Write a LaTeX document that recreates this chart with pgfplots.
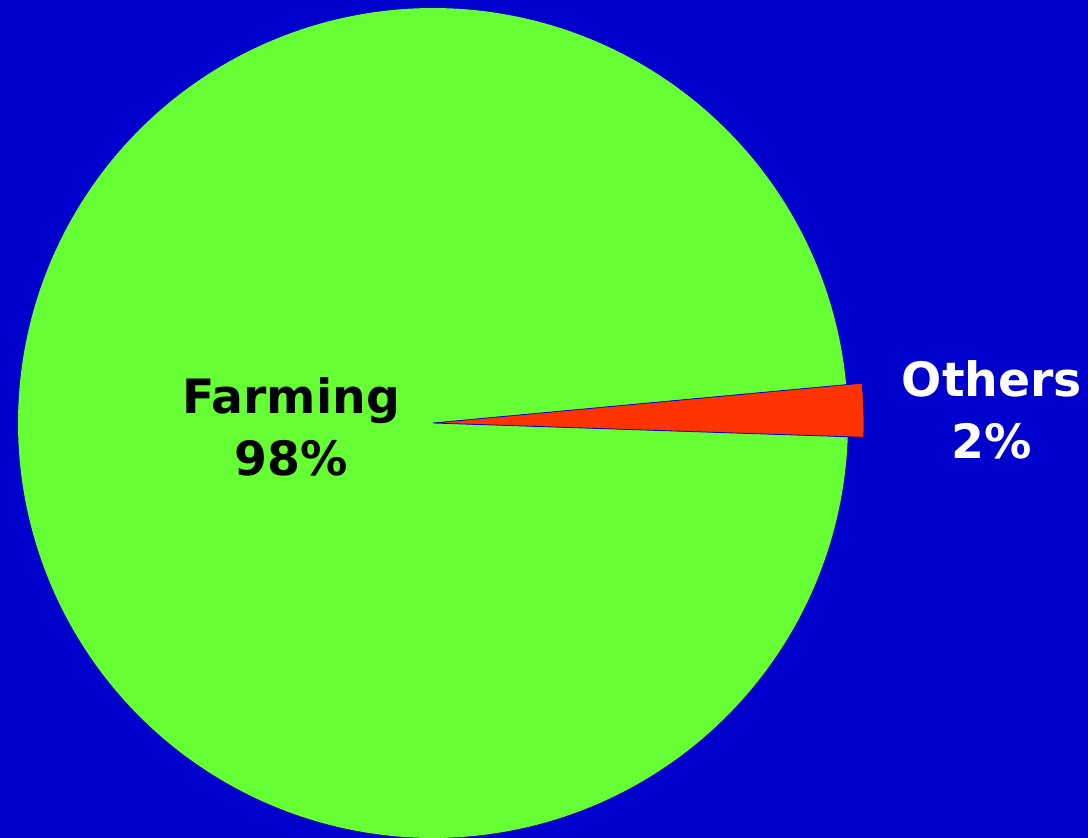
\documentclass[border=0pt]{standalone}
\usepackage{pgfplots}
\pgfplotsset{compat=1.18}
\usepgfplotslibrary{polar}
\usetikzlibrary{calc,backgrounds}
\usepackage{fontspec}
\newfontfamily\lab{DejaVu Sans}
\definecolor{bgblue}{RGB}{0,0,204}
\definecolor{farm}{RGB}{102,255,51}
\definecolor{oth}{RGB}{255,51,0}
% shares in percent
\def\farmshare{98}
\def\othshare{2}
\pgfmathsetmacro\othstart{-1.9}
\pgfmathsetmacro\othend{\othstart+3.6*\othshare}
\pgfmathsetmacro\farmend{\othend+3.6*\farmshare}
\begin{document}
\begin{tikzpicture}
\begin{polaraxis}[
  hide axis, scale only axis, width=830bp, height=830bp,
  xmin=0, xmax=360, ymin=0, ymax=415, clip=false,
  at={(0,0)}, anchor=south west]
\addplot[fill=farm, draw=none, domain=\othend:\farmend, samples=361] {415} -- (axis cs:0,0) -- cycle;
\addplot[fill=oth, draw=bgblue, line width=0.8bp, domain=\othstart:\othend, samples=12] {431} -- (axis cs:0,0) -- cycle;
\coordinate (C) at (axis cs:0,0);
\end{polaraxis}
\begin{scope}[on background layer]
\fill[bgblue] ($(C)+(-433bp,-415bp)$) rectangle ($(C)+(655bp,423bp)$);
\end{scope}
\node[align=center, text=black, font=\lab\bfseries\fontsize{47.5}{62}\selectfont] at ($(C)+(-142bp,-4bp)$) {Farming\\98\%};
\node[align=center, text=white, font=\lab\bfseries\fontsize{47.5}{62}\selectfont] at ($(C)+(559bp,13bp)$) {Others\\2\%};
\pgfresetboundingbox
\useasboundingbox ($(C)+(-433bp,-415bp)$) rectangle ($(C)+(655bp,423bp)$);
\end{tikzpicture}
\end{document}
